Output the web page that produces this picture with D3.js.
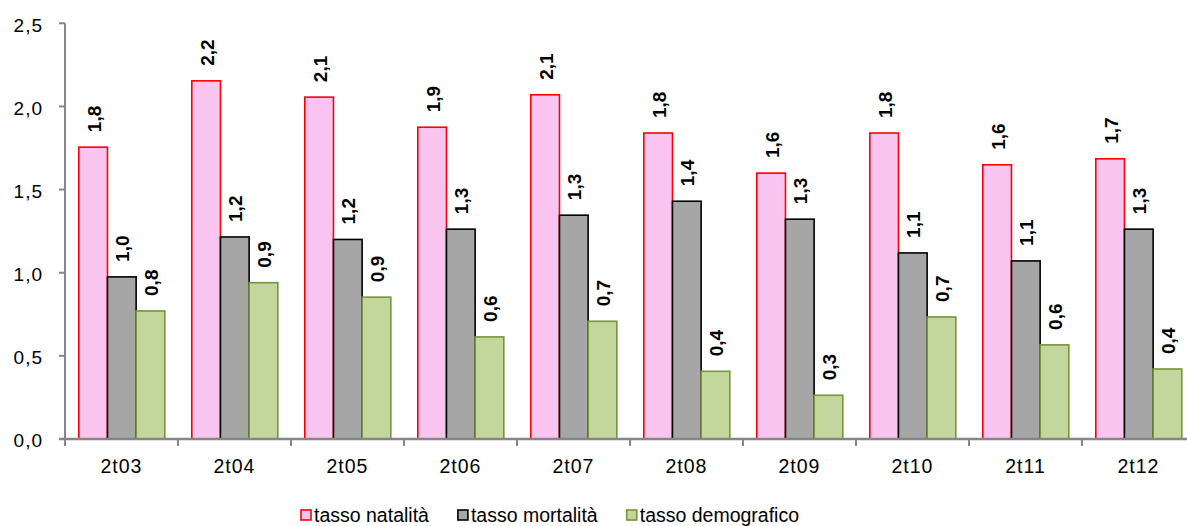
<!DOCTYPE html>
<html>
<head>
<meta charset="utf-8">
<script src="https://cdn.jsdelivr.net/npm/d3@7"></script>
<style>
  body { margin: 0; background: #ffffff; }
  svg { display: block; font-family: "Liberation Sans", Arial, sans-serif; }
</style>
</head>
<body>
<svg id="chart" width="1187" height="526"></svg>
<script>
// Quarterly rates (second quarter of each year)
const categories = ["2t03", "2t04", "2t05", "2t06", "2t07", "2t08", "2t09", "2t10", "2t11", "2t12"];
const natalita    = [1.755, 2.154, 2.056, 1.875, 2.07, 1.84, 1.599, 1.84, 1.649, 1.685];
const mortalita   = [0.975, 1.215, 1.20, 1.262, 1.346, 1.43, 1.322, 1.119, 1.071, 1.262];
const demografico = [0.77, 0.94, 0.853, 0.614, 0.708, 0.407, 0.263, 0.734, 0.566, 0.421];
const seriesNames = ["tasso natalità", "tasso mortalità", "tasso demografico"];
const yTicks = [0, 0.5, 1.0, 1.5, 2.0, 2.5];

const seriesValues = [natalita, mortalita, demografico];
const fills   = ["#F9C5F0", "#A6A6A6", "#C3D69B"];
const strokes = ["#FF0000", "#000000", "#77933C"];

const itFmt = d3.formatLocale({ decimal: ",", thousands: ".", grouping: [3], currency: ["", "€"] }).format(".1f");

const svg = d3.select("#chart");
const plotLeft = 65, plotBottom = 439, plotTop = 23.3;
const bandW = 113;

const x0 = d3.scaleBand().domain(categories).range([plotLeft, plotLeft + bandW * categories.length]);
const x1 = d3.scaleBand().domain(d3.range(seriesNames.length)).range([13.8, bandW - 13.2]);
const y = d3.scaleLinear().domain([0, 2.5]).range([plotBottom, plotTop]);

const axisColor = "#868686";

// bars
const groups = svg.append("g").selectAll("g")
  .data(categories)
  .join("g")
  .attr("transform", d => `translate(${x0(d)},0)`);

groups.each(function (cat, ci) {
  const g = d3.select(this);
  seriesValues.forEach((vals, si) => {
    const v = vals[ci];
    g.append("rect")
      .attr("x", x1(si))
      .attr("y", y(v))
      .attr("width", x1.bandwidth())
      .attr("height", plotBottom - y(v))
      .attr("fill", fills[si])
      .attr("stroke", strokes[si])
      .attr("stroke-width", 1.6);
    const cx = x1(si) + x1.bandwidth() / 2 + 7.5;
    const ty = y(v) - 15;
    g.append("text")
      .attr("transform", `translate(${cx},${ty}) rotate(-90)`)
      .attr("text-anchor", "start")
      .attr("font-size", "19px")
      .attr("font-weight", "bold")
      .attr("fill", "#000")
      .text(itFmt(v));
  });
});

// y axis
const yAxis = svg.append("g");
yAxis.append("line")
  .attr("x1", plotLeft).attr("x2", plotLeft)
  .attr("y1", y(2.5)).attr("y2", plotBottom)
  .attr("stroke", axisColor).attr("stroke-width", 2);
yAxis.selectAll("line.tick")
  .data(yTicks)
  .join("line")
  .attr("class", "tick")
  .attr("x1", plotLeft - 6).attr("x2", plotLeft)
  .attr("y1", d => y(d)).attr("y2", d => y(d))
  .attr("stroke", axisColor).attr("stroke-width", 2);
yAxis.selectAll("text")
  .data(yTicks)
  .join("text")
  .attr("x", 43)
  .attr("y", d => y(d) + 1.5)
  .attr("dy", "0.36em")
  .attr("text-anchor", "end")
  .attr("font-size", "19px")
  .attr("letter-spacing", "1px")
  .attr("fill", "#000")
  .text(d => itFmt(d));

// x axis
const xAxis = svg.append("g");
xAxis.append("line")
  .attr("x1", plotLeft - 6).attr("x2", plotLeft + bandW * categories.length)
  .attr("y1", plotBottom).attr("y2", plotBottom)
  .attr("stroke", axisColor).attr("stroke-width", 2.5);
xAxis.selectAll("line.tick")
  .data(categories)
  .join("line")
  .attr("class", "tick")
  .attr("x1", d => x0(d)).attr("x2", d => x0(d))
  .attr("y1", plotBottom).attr("y2", plotBottom + 7)
  .attr("stroke", axisColor).attr("stroke-width", 2);
xAxis.selectAll("text")
  .data(categories)
  .join("text")
  .attr("x", d => x0(d) + bandW / 2)
  .attr("y", 473)
  .attr("text-anchor", "middle")
  .attr("font-size", "19.5px")
  .attr("letter-spacing", "1px")
  .attr("fill", "#000")
  .text(d => d);

// legend
const legend = svg.append("g");
let lx = 300;
seriesNames.forEach((name, si) => {
  legend.append("rect")
    .attr("x", lx + 1).attr("y", 510)
    .attr("width", 10).attr("height", 10)
    .attr("fill", fills[si])
    .attr("stroke", strokes[si])
    .attr("stroke-width", 1.6);
  const t = legend.append("text")
    .attr("x", lx + 14)
    .attr("y", 522)
    .attr("font-size", "19.5px")
    .attr("fill", "#000")
    .text(name);
  lx += 14 + t.node().getComputedTextLength() + 28;
});
</script>
</body>
</html>
